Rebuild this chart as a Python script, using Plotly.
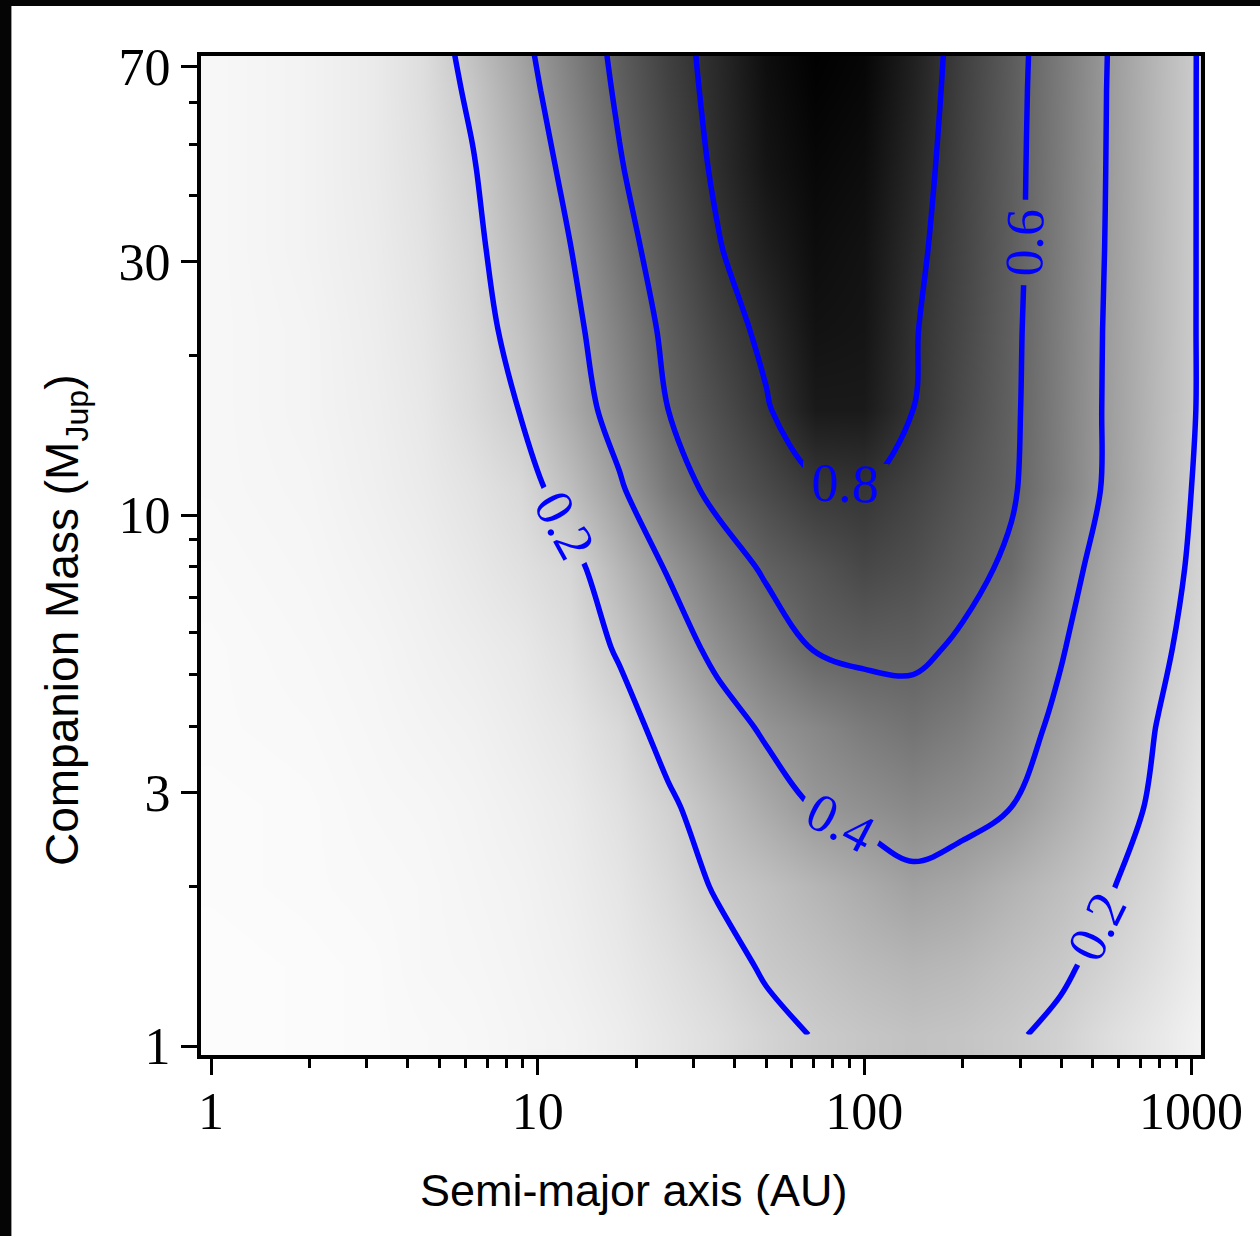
import plotly.graph_objects as go

# Grid of semi-major axis (AU) and companion mass (M_Jup)
a_au = [1.0, 2.0, 3.16, 4.47, 6.31, 8.91, 12.6, 17.8, 25.1, 35.5,
        50.1, 70.8, 100.0, 141.0, 200.0, 282.0, 398.0, 562.0, 794.0, 1072.0]
m_jup = [1.05, 1.41, 2.0, 2.82, 3.98, 5.62, 7.94, 11.2, 15.8, 22.4,
         31.6, 44.7, 63.1, 79.4]

# Detection probability (rows follow m_jup, columns a_au)
prob_m105 = [0.01, 0.015, 0.02, 0.025, 0.03, 0.04, 0.05, 0.07, 0.10, 0.13, 0.17, 0.205, 0.225, 0.24, 0.23, 0.21, 0.18, 0.13, 0.09, 0.05]
prob_m141 = [0.01, 0.015, 0.02, 0.03, 0.035, 0.045, 0.06, 0.085, 0.12, 0.16, 0.212, 0.24, 0.27, 0.29, 0.275, 0.245, 0.215, 0.17, 0.12, 0.07]
prob_m200 = [0.015, 0.02, 0.025, 0.03, 0.04, 0.05, 0.07, 0.10, 0.15, 0.21, 0.246, 0.288, 0.329, 0.37, 0.345, 0.30, 0.255, 0.207, 0.15, 0.08]
prob_m282 = [0.015, 0.02, 0.03, 0.035, 0.045, 0.06, 0.08, 0.12, 0.18, 0.259, 0.335, 0.405, 0.436, 0.466, 0.44, 0.40, 0.323, 0.248, 0.18, 0.10]
prob_m398 = [0.02, 0.025, 0.035, 0.045, 0.055, 0.075, 0.10, 0.15, 0.243, 0.34, 0.419, 0.468, 0.517, 0.55, 0.51, 0.45, 0.374, 0.285, 0.195, 0.12]
prob_m562 = [0.02, 0.03, 0.04, 0.055, 0.07, 0.09, 0.13, 0.214, 0.33, 0.436, 0.527, 0.608, 0.63, 0.625, 0.583, 0.496, 0.41, 0.318, 0.225, 0.15]
prob_m794 = [0.025, 0.035, 0.05, 0.065, 0.09, 0.12, 0.16, 0.286, 0.411, 0.526, 0.618, 0.669, 0.72, 0.69, 0.635, 0.58, 0.45, 0.345, 0.249, 0.17]
prob_m1120 = [0.03, 0.04, 0.06, 0.08, 0.11, 0.15, 0.255, 0.383, 0.53, 0.64, 0.71, 0.78, 0.795, 0.74, 0.672, 0.614, 0.502, 0.378, 0.27, 0.18]
prob_m1580 = [0.03, 0.045, 0.065, 0.09, 0.14, 0.205, 0.328, 0.458, 0.60, 0.694, 0.788, 0.90, 0.90, 0.80, 0.705, 0.622, 0.505, 0.381, 0.275, 0.19]
prob_m2240 = [0.03, 0.045, 0.07, 0.10, 0.155, 0.241, 0.361, 0.497, 0.632, 0.742, 0.83, 0.93, 0.92, 0.81, 0.72, 0.626, 0.508, 0.383, 0.278, 0.19]
prob_m3160 = [0.03, 0.05, 0.075, 0.11, 0.17, 0.276, 0.397, 0.543, 0.672, 0.79, 0.88, 0.95, 0.93, 0.83, 0.73, 0.632, 0.514, 0.388, 0.279, 0.19]
prob_m4470 = [0.03, 0.05, 0.08, 0.12, 0.19, 0.308, 0.438, 0.588, 0.71, 0.82, 0.92, 0.97, 0.95, 0.85, 0.738, 0.635, 0.517, 0.391, 0.28, 0.19]
prob_m6310 = [0.03, 0.05, 0.08, 0.13, 0.22, 0.346, 0.483, 0.622, 0.74, 0.835, 0.94, 0.99, 0.97, 0.87, 0.746, 0.639, 0.52, 0.393, 0.281, 0.19]
prob_m7940 = [0.03, 0.05, 0.08, 0.13, 0.252, 0.372, 0.508, 0.64, 0.755, 0.84, 0.95, 1.0, 0.98, 0.88, 0.753, 0.644, 0.523, 0.396, 0.283, 0.19]

prob = [prob_m105, prob_m141, prob_m200, prob_m282, prob_m398, prob_m562, prob_m794,
        prob_m1120, prob_m1580, prob_m2240, prob_m3160, prob_m4470, prob_m6310, prob_m7940]

contour_start, contour_end, contour_step = 0.2, 0.8, 0.2

x_tickvals = [1, 10, 100, 1000]
x_ticktext = ["1", "10", "100", "1000"]
x_minorvals = [2, 3, 4, 5, 6, 7, 8, 9, 20, 30, 40, 50, 60, 70, 80, 90,
               200, 300, 400, 500, 600, 700, 800, 900]
y_tickvals = [1, 3, 10, 30, 70]
y_ticktext = ["1", "3", "10", "30", "70"]
y_minorvals = [2, 4, 5, 6, 7, 8, 9, 20, 40, 50, 60]

x_title = "Semi-major axis (AU)"
y_title = "Companion Mass (M<sub>Jup</sub>)"

serif = "Liberation Serif, Times New Roman, serif"
sans = "Liberation Sans, Arial, sans-serif"

fig = go.Figure()
fig.add_trace(go.Heatmap(
    x=a_au, y=m_jup, z=prob,
    colorscale=[[0, "#ffffff"], [1, "#000000"]], zmin=0, zmax=1,
    zsmooth="best", showscale=False, hoverinfo="skip"))
fig.add_trace(go.Contour(
    x=a_au, y=m_jup, z=prob,
    contours=dict(start=contour_start, end=contour_end, size=contour_step,
                  coloring="lines", showlabels=True, labelformat=".1f",
                  labelfont=dict(family=serif, size=54, color="#0000ff")),
    line=dict(width=5.5, smoothing=1),
    colorscale=[[0, "#0000ff"], [1, "#0000ff"]],
    showscale=False, hoverinfo="skip"))

axis_common = dict(
    type="log", showgrid=False, zeroline=False,
    showline=True, linecolor="black", linewidth=4, mirror=True,
    ticks="outside", ticklen=16, tickwidth=3, tickcolor="black",
    tickfont=dict(family=serif, size=52, color="black"),
)
fig.update_xaxes(
    **axis_common, range=[-0.0306, 3.0306],
    tickmode="array", tickvals=x_tickvals, ticktext=x_ticktext,
    ticklabelstandoff=-8,
    minor=dict(tickmode="array", tickvals=x_minorvals, ticks="outside",
               ticklen=9, tickwidth=3, tickcolor="black", showgrid=False))
fig.update_yaxes(
    **axis_common, range=[-0.0169, 1.865],
    tickmode="array", tickvals=y_tickvals, ticktext=y_ticktext,
    minor=dict(tickmode="array", tickvals=y_minorvals, ticks="outside",
               ticklen=8, tickwidth=3, tickcolor="black", showgrid=False))

fig.update_layout(
    width=1260, height=1236,
    margin=dict(l=201, r=59, t=56, b=181),
    paper_bgcolor="#050505", plot_bgcolor="white",
    showlegend=False,
    shapes=[dict(type="rect", xref="paper", yref="paper", layer="below",
                 x0=-0.1896, x1=1.1, y0=-0.3, y1=1.05,
                 fillcolor="white", line=dict(width=0))],
    annotations=[
        dict(text=x_title, xref="paper", yref="paper",
             x=(634 - 201) / 1000, y=-(1190 - 1055) / 999,
             xanchor="center", yanchor="middle", showarrow=False,
             font=dict(family=sans, size=45, color="black")),
        dict(text=y_title, xref="paper", yref="paper",
             x=-(201 - 66) / 1000, y=(1055 - 620) / 999, textangle=-90,
             xanchor="center", yanchor="middle", showarrow=False,
             font=dict(family=sans, size=46, color="black")),
    ],
)

fig.write_html("out.html")
